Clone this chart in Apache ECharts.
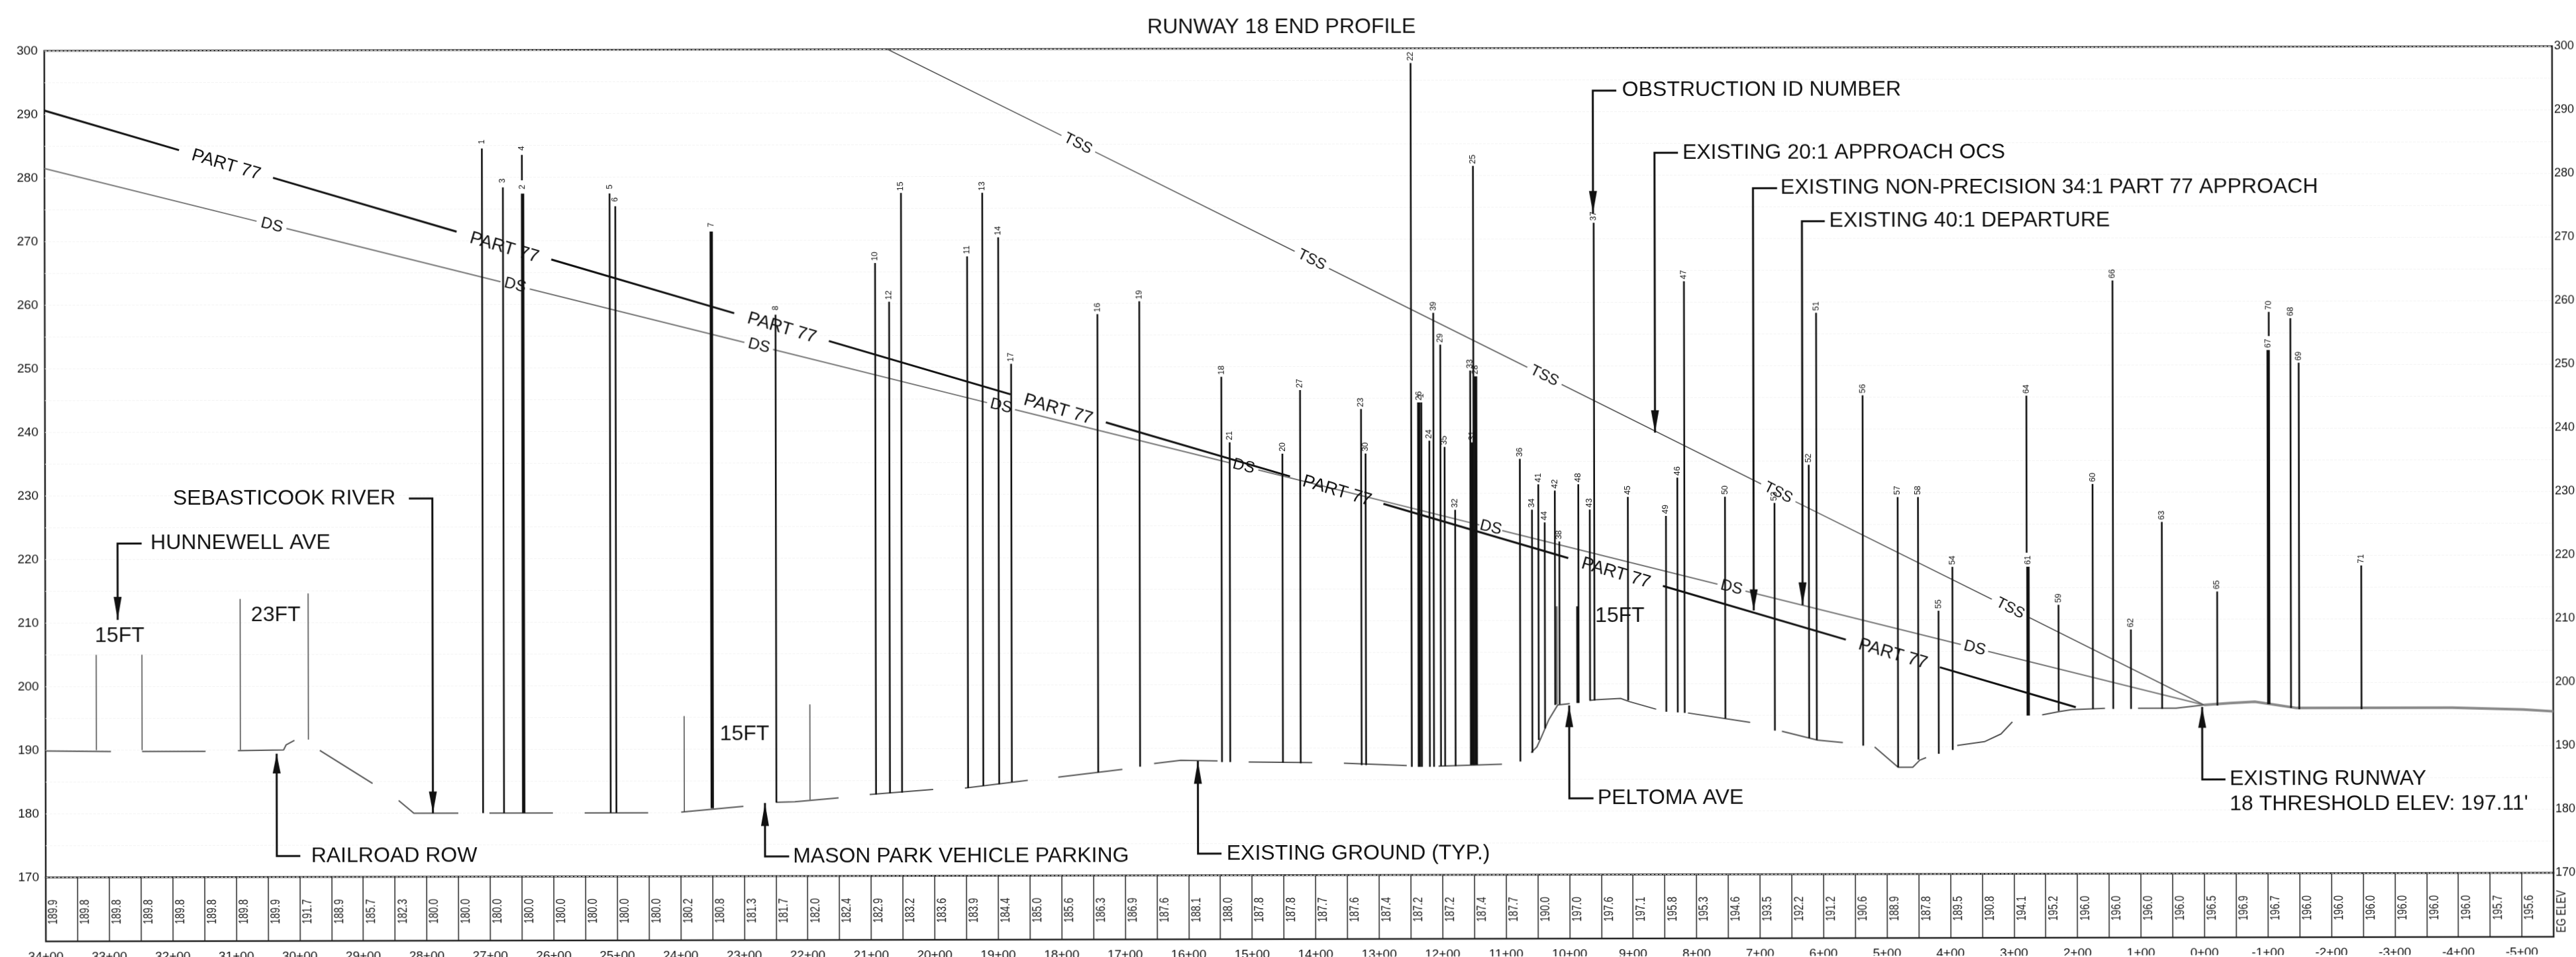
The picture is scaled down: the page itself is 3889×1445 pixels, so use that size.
<!DOCTYPE html>
<html><head><meta charset="utf-8">
<style>html,body{margin:0;padding:0;background:#fff;overflow:hidden}#c{width:3889px;height:1445px;transform:rotate(-0.106deg)}</style>
<script src="https://cdn.jsdelivr.net/npm/echarts@6/dist/echarts.min.js"></script>
</head><body><div id="c"></div>
<script>
const titleText = 'RUNWAY 18 END PROFILE';
const bandTitle = 'EG ELEV';
const egElev = [189.9,189.8,189.8,189.8,189.8,189.8,189.8,189.9,191.7,188.9,185.7,182.3,180.0,180.0,180.0,180.0,180.0,180.0,180.0,180.0,180.2,180.8,181.3,181.7,182.0,182.4,
182.9,183.2,183.6,183.9,184.4,185.0,185.6,186.3,186.9,187.6,188.1,188.0,187.8,187.8,187.7,187.6,187.4,187.2,187.2,187.4,187.7,190.0,197.0,197.6,197.1,195.8,195.3,
194.6,193.5,192.2,191.2,190.6,188.9,187.8,189.5,190.8,194.1,195.2,196.0,196.0,196.0,196.0,196.5,196.9,196.7,196.0,196.0,196.0,196.0,196.0,196.0,195.7,195.6];

const part77Stations = [3400,3188,null,3040,2751,null,2602,2314,null,2165,1879,null,1729,1439,null,1292,1001,null,852,564,null,416,202];
const part77Elevs    = [290.6,284.35,null,279.97,271.44,null,267.04,258.54,null,254.14,245.7,null,241.27,232.71,null,228.37,219.78,null,215.38,206.88,null,202.51,196.2];
const dsStations = [3400,3066,null,3019,2682,null,2636,2298,null,2253,1916,null,1872,1535,null,1489,1141,null,1105,766,null,722,383,null,340,0];
const dsElevs    = [281.5,273.15,null,271.98,263.55,null,262.4,253.95,null,252.83,244.4,null,243.3,234.88,null,233.73,225.03,null,224.13,215.65,null,214.55,206.08,null,205.0,196.5];
const tssStations = [2072,1798,null,1745,1431,null,1377,1065,null,1011,697,null,643,334,null,275,0];
const tssElevs    = [300,286.4,null,283.8,268.1,null,265.4,249.8,null,247.1,231.4,null,228.6,213.2,null,210.3,196.5];

const part77LabelStations = [3114,2676,2239,1804,1365,926,490];
const part77LabelElevs    = [282.0,268.9,256.2,243.3,230.4,217.4,204.6];
const dsLabelStations = [3042,2659,2275,1894,1512,1123,744,361];
const dsLabelElevs    = [272.5,263.0,253.4,243.85,234.3,224.6,215.1,205.5];
const tssLabelStations = [1772,1404,1038,670,305];
const tssLabelElevs    = [285.1,266.75,248.45,230,211.75];

const groundStations = [3399,3297,null,3248,3148,null,3097,3025,3021,3008,null,2968,2885,null,2844,2820,2750,null,2701,2601,null,2551,2451,null,2399,2301,null,2250,2220,2151,null,2102,2002,null,1952,1853,null,1805,1704,null,1654,1612,1554,null,1505,1405,null,1355,1256,null,1206,1106,null,1060,1051,1045,1032,1018,999,null,968,959,919,905,863,null,813,715,null,665,609,569,null,519,482,459,448,438,null,389,346,320,302,null,255,229,209,156,null,104,44,0];
const groundElevs    = [189.9,189.8,null,189.8,189.8,null,189.9,190.0,190.8,191.5,null,189.9,184.7,null,182.0,180.0,180.0,null,180.0,180.0,null,180.0,180.0,null,180.1,181.0,null,181.6,181.7,182.3,null,182.8,183.6,null,183.8,185.0,null,185.5,186.7,null,187.6,188.1,188.0,null,187.8,187.7,null,187.6,187.2,null,187.1,187.4,null,189.2,190.1,191.4,194.4,196.7,196.9,null,197.4,197.5,197.7,197.2,196.0,null,195.4,193.9,null,192.5,191.1,190.7,null,190.0,186.8,186.8,187.9,188.3,null,190.2,190.8,192.0,193.9,null,195.0,195.5,195.8,196.0,null,196.0,196.0,196.5];
const runwayStations = [0,-41,-80,-146,-391,-503,-550];
const runwayElevs    = [196.5,196.8,197.0,196.0,196.0,195.7,195.4];

const obstructionIds = ['1','3','4','2','5','6','7','8','10','12','15','11','13','14','17','16','19','18','21','20','27','23','30','22','26','1','24','39','29','35','32','33','31','25','28','36','34','41','44','42','38','48','43','37','45','49','46','47','50','53','52','51','56','57','58','55','54','64','61','59','60','66','62','63','65','70','67','68','69','71'];
const obstructionStations = [2711,2678,2648,2647,2510,2501,2350,2249,2092,2070,2051,1947,1923,1898,1878,1742,1676,1547,1534,1451,1423,1327,1320,1248,1236,1232,1219.5,1213,1202,1195.5,1179,1155,1152,1150,1146.5,1077,1058,1048,1038,1022,1015,985,967,960,907,847,829,818,754,676,622,610,537,482,450,418,396,279,277,229,175,143,115,66,-21,-103,-102,-137,-150,-248];
const obstructionTops = [284.5,278.4,283.5,277.4,277.4,275.4,271.4,258.3,266.4,260.3,277.4,267.4,277.4,270.4,250.5,258.3,260.3,248.4,238.1,236.3,246.3,243.3,236.3,297.7,244.3,244.3,238.3,258.4,253.4,237.3,227.4,249.3,238,281.5,248.4,235.4,227.4,231.4,225.4,230.4,222.4,231.4,227.4,272.5,229.4,226.4,232.4,263.3,229.4,228.4,234.4,258.3,245.3,229.3,229.3,211.4,218.3,245.2,218.3,212.3,231.3,263.3,208.4,225.3,214.35,258.3,252.3,257.3,250.3,218.4];
const obstructionBases = [180,180,279.5,180,180,180,180.7,181.6,182.8,183,183.1,183.8,184.1,184.4,184.7,186.2,187.1,187.8,187.8,187.7,187.6,187.3,187.3,187,187,187,187,187,187.1,187.1,187.1,187.3,187.3,187.3,187.3,187.8,189.2,191.2,193,196.7,196.8,197,197.4,197.4,197.4,195.6,195.5,195.4,194.5,192.6,191.4,191.1,190.2,186.8,188,188.9,189.5,220.5,194.9,195.6,195.9,195.9,195.9,195.9,196.4,254.5,196.6,196,195.8,195.8];
const heavyObstructionIds = ['2','7','26','61','67','28','31'];

const wallStations = [3320,3248,3093,2986,2394,2196];
const wallTops     = [205,205,213.75,214.6,195.2,197];
const wallBases    = [190,190,190,191.6,180.1,182];

const roadMarkerStations = [1020,987];
const roadMarkerTops     = [212.2,212.2];
const roadMarkerBases    = [196.8,197];

const noteTexts = ['OBSTRUCTION ID NUMBER','EXISTING 20:1 APPROACH OCS','EXISTING NON-PRECISION 34:1 PART 77 APPROACH','EXISTING 40:1 DEPARTURE','EXISTING RUNWAY','PELTOMA AVE','EXISTING GROUND (TYP.)','MASON PARK VEHICLE PARKING','RAILROAD ROW','SEBASTICOOK RIVER','HUNNEWELL AVE'];
const noteAnchorStations = [915,820,665.6,589,-40,955.6,1540,2223,2982,2848,3234];
const noteAnchorElevs    = [293.3,283.5,277.9,272.7,184.8,182,173.4,173.1,173.3,229.5,222.5];
const noteLeaderStations = [[924,961,961],[827,864,864],[671,709,709],[596,632,632],[-33.5,3,3],[962,1000,1000],[1548,1585,1585],[2229,2267,2267],[2999,3036,3036],[2827,2790,2790],[3248,3286,3286]];
const noteLeaderElevs    = [[293.3,293.3,274],[283.5,283.5,239.5],[277.9,277.9,211.5],[272.7,272.7,212.3],[184.8,184.8,196.2],[182,182,196.6],[173.4,173.4,188],[173.1,173.1,181.5],[173.3,173.3,189.4],[229.5,229.5,180],[222.5,222.5,210.5]];
const noteArrowBaseElevs = [277.5,243,214.8,215.9,192.9,193.2,184.4,177.9,186.3,183.4,214.1];

const plainTexts = ['18 THRESHOLD ELEV: 197.11\'','15FT','23FT','15FT','15FT'];
const plainStations = [-40,3283,3037,2299,920];
const plainElevs = [180.9,207.9,211.2,192.3,210.7];
const plainAligns = ['left','center','center','center','center'];

const NARROW = '"Liberation Sans Narrow","Liberation Sans",Arial,sans-serif';
const SANS = '"Liberation Sans",Arial,sans-serif';
const zip = (a, b) => a.map((v, i) => v === null ? [null, null] : [v, b[i]]);

function lineSeries(name, sx, sy, color, width) {
  return {name, type:'line', xAxisIndex:0, yAxisIndex:0, data:zip(sx, sy), showSymbol:false, symbol:'none',
    connectNulls:false, lineStyle:{color, width}, silent:true, z:3, animation:false};
}
function rotatedLabels(name, text, sx, sy, deg, size) {
  return {name, type:'custom', xAxisIndex:0, yAxisIndex:0, data:zip(sx, sy), encode:{x:0,y:1}, z:6, silent:true, animation:false,
    renderItem(p, api){
      const c = api.coord([api.value(0), api.value(1)]);
      return {type:'text', x:c[0], y:c[1], rotation:-deg*Math.PI/180,
        style:{text, fill:'#111', font:size+'px '+NARROW, align:'center', verticalAlign:'middle'}};
    }};
}
function verticals(name, sx, tops, bases, color, width) {
  return {name, type:'custom', xAxisIndex:0, yAxisIndex:0, data:sx.map((s,i)=>[s,bases[i],tops[i]]), encode:{x:0,y:[1,2]}, z:4, silent:true, animation:false,
    renderItem(p, api){
      const a = api.coord([api.value(0), api.value(1)]), b = api.coord([api.value(0), api.value(2)]);
      return {type:'line', shape:{x1:a[0],y1:a[1],x2:b[0],y2:b[1]}, style:{stroke:color, lineWidth:width}};
    }};
}

const obstructionData = obstructionIds.map((id,i)=>[obstructionStations[i],obstructionBases[i],obstructionTops[i],id]);
const noteData = noteTexts.map((t,i)=>[noteAnchorStations[i],noteAnchorElevs[i],i]);
const plainData = plainTexts.map((t,i)=>[plainStations[i],plainElevs[i],i]);
const bandData = egElev.map((v,i)=>[3400-50*i,0.5,v]);

const option = {
  animation:false,
  backgroundColor:'#fff',
  title:{text:titleText, left:1931, top:20, textAlign:'center', textStyle:{fontFamily:SANS, fontSize:32, fontWeight:'normal', color:'#111'}},
  grid:[
    {left:68, right:35, top:73.3, height:1248.2, show:true, borderColor:'#222', borderWidth:2.5, backgroundColor:'#fff', outerBoundsMode:'none', containLabel:false},
    {left:68, right:35, top:1321.5, height:96.5, show:true, borderColor:'#222', borderWidth:2.5, backgroundColor:'#fff', outerBoundsMode:'none', containLabel:false}
  ],
  xAxis:[
    {gridIndex:0, type:'value', inverse:true, min:-550, max:3400, interval:50, axisLine:{show:false}, axisTick:{show:false}, axisLabel:{show:false},
      splitLine:{show:false}},
    {gridIndex:1, type:'value', inverse:true, min:-550, max:3400, interval:50, position:'bottom', axisLine:{show:false}, axisTick:{show:false},
      splitLine:{show:true, lineStyle:{color:'#222', width:1.5}},
      axisLabel:{show:true, margin:14, fontFamily:NARROW, fontSize:19, color:'#111', showMinLabel:true, showMaxLabel:true, hideOverlap:false,
        interval:0, formatter:v => (v % 100 === 0) ? (v/100)+'+00' : ''}}
  ],
  yAxis:[
    {gridIndex:0, type:'value', min:170, max:300, interval:5, axisLine:{show:false}, axisTick:{show:false},
      splitLine:{show:true, lineStyle:{color:'#f3f3f3', width:1, type:'dashed'}},
      axisLabel:{margin:10, fontFamily:NARROW, fontSize:19, color:'#111', formatter:v => v % 10 === 0 ? String(v) : ''}},
    {gridIndex:0, type:'value', position:'right', min:170, max:300, interval:5, axisLine:{show:false}, axisTick:{show:false}, splitLine:{show:false},
      axisLabel:{margin:3, fontFamily:NARROW, fontSize:18, color:'#111', formatter:v => v % 10 === 0 ? String(v) : ''}},
    {gridIndex:1, type:'value', position:'right', min:0, max:1, axisLine:{show:false}, axisTick:{show:false}, splitLine:{show:false}, axisLabel:{show:false}}
  ],
  series:[
    lineSeries('Ground', groundStations, groundElevs, '#555', 2),
    lineSeries('Runway', runwayStations, runwayElevs, '#8a8a8a', 4),
    lineSeries('PART 77', part77Stations, part77Elevs, '#111', 3),
    lineSeries('DS', dsStations, dsElevs, '#777', 2),
    lineSeries('TSS', tssStations, tssElevs, '#555', 1.6),
    rotatedLabels('PART 77 labels', 'PART 77', part77LabelStations, part77LabelElevs, 16.5, 27),
    rotatedLabels('DS labels', 'DS', dsLabelStations, dsLabelElevs, 14, 24),
    rotatedLabels('TSS labels', 'TSS', tssLabelStations, tssLabelElevs, 26.6, 23),
    verticals('Walls', wallStations, wallTops, wallBases, '#444', 1.5),
    verticals('Road marker', [roadMarkerStations[0]], [roadMarkerTops[0]], [roadMarkerBases[0]], '#777', 4),
    verticals('Road marker 2', [roadMarkerStations[1]], [roadMarkerTops[1]], [roadMarkerBases[1]], '#111', 3),
    {name:'Obstructions', type:'custom', xAxisIndex:0, yAxisIndex:0, data:obstructionData, encode:{x:0,y:[1,2]}, z:5, silent:true, animation:false,
      renderItem(p, api){
        const s = api.value(0), id = obstructionIds[p.dataIndex];
        const a = api.coord([s, api.value(1)]), b = api.coord([s, api.value(2)]);
        const w = heavyObstructionIds.includes(id) ? 5 : 2.6;
        return {type:'group', children:[
          {type:'line', shape:{x1:a[0],y1:a[1],x2:b[0],y2:b[1]}, style:{stroke:'#111', lineWidth:w}},
          {type:'text', x:b[0], y:b[1]-10, rotation:Math.PI/2,
            style:{text:id, fill:'#111', font:'12.5px '+SANS, align:'center', verticalAlign:'middle'}}
        ]};
      }},
    {name:'Callouts', type:'custom', xAxisIndex:0, yAxisIndex:0, data:noteData, encode:{x:0,y:1}, z:7, silent:true, animation:false,
      renderItem(p, api){
        const i = p.dataIndex;
        const pts = noteLeaderStations[i].map((s,k)=>api.coord([s, noteLeaderElevs[i][k]]));
        const tip = pts[pts.length-1];
        const base = api.coord([noteLeaderStations[i][2], noteArrowBaseElevs[i]]);
        const t = api.coord([api.value(0), api.value(1)]);
        const rightAligned = noteLeaderStations[i][1] < noteAnchorStations[i];
        return {type:'group', children:[
          {type:'polyline', shape:{points:pts}, style:{stroke:'#111', lineWidth:3, fill:null}},
          {type:'polygon', shape:{points:[tip,[base[0]-6,base[1]],[base[0]+6,base[1]]]}, style:{fill:'#111'}},
          {type:'text', x:t[0], y:t[1], style:{text:noteTexts[i], fill:'#111', font:'32px '+NARROW, align:rightAligned?'right':'left', verticalAlign:'middle'}}
        ]};
      }},
    {name:'Notes', type:'custom', xAxisIndex:0, yAxisIndex:0, data:plainData, encode:{x:0,y:1}, z:7, silent:true, animation:false,
      renderItem(p, api){
        const c = api.coord([api.value(0), api.value(1)]);
        return {type:'text', x:c[0], y:c[1], style:{text:plainTexts[p.dataIndex], fill:'#111', font:'32px '+NARROW, align:plainAligns[p.dataIndex], verticalAlign:'middle'}};
      }},
    {name:'EG ELEV', type:'custom', xAxisIndex:1, yAxisIndex:2, data:bandData, encode:{x:0,y:1}, z:5, silent:true, animation:false,
      renderItem(p, api){
        const c = api.coord([api.value(0), api.value(1)]);
        return {type:'text', x:c[0]+12, y:c[1]+4, rotation:Math.PI/2, scaleY:1.3,
          style:{text:egElev[p.dataIndex].toFixed(1), fill:'#222', font:'15px '+SANS, align:'center', verticalAlign:'middle'}};
      }},
    {name:'EG ELEV title', type:'custom', xAxisIndex:1, yAxisIndex:2, data:[[-550,0.5]], encode:{x:0,y:1}, z:5, silent:true, animation:false, clip:false,
      renderItem(p, api){
        const c = api.coord([api.value(0), api.value(1)]);
        return {type:'text', x:c[0]+13, y:c[1]+10, rotation:Math.PI/2, scaleY:1.3,
          style:{text:bandTitle, fill:'#222', font:'15px '+SANS, align:'center', verticalAlign:'middle'}};
      }}
  ]
};
const chart = echarts.init(document.getElementById('c'), null, {width:3889, height:1445});
chart.setOption(option);
</script></body></html>
